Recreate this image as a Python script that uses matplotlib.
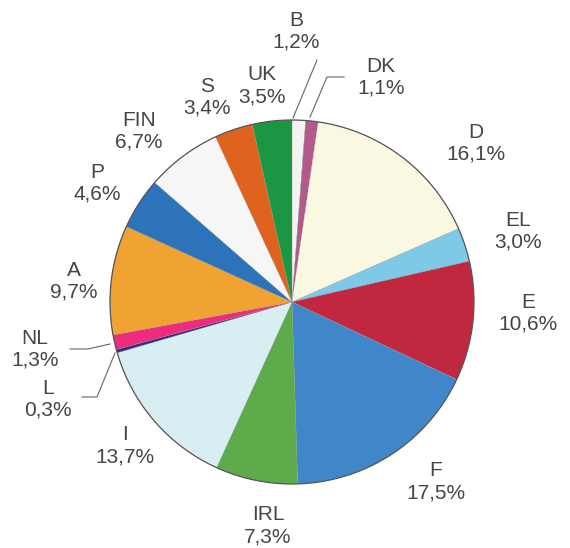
import matplotlib
matplotlib.use('Agg')
import matplotlib.pyplot as plt
from matplotlib.patches import Circle

# Share per country (%), clockwise from 12 o'clock
countries = ['B', 'DK', 'D', 'EL', 'E', 'F', 'IRL', 'I', 'L', 'NL', 'A', 'P', 'FIN', 'S', 'UK']
shares = [1.2, 1.1, 16.1, 3.0, 10.6, 17.5, 7.3, 13.7, 0.3, 1.3, 9.7, 4.6, 6.7, 3.4, 3.5]
share_labels = ['1,2%', '1,1%', '16,1%', '3,0%', '10,6%', '17,5%', '7,3%', '13,7%',
                '0,3%', '1,3%', '9,7%', '4,6%', '6,7%', '3,4%', '3,5%']

colors = ['#f3f3f1', '#b25a8c', '#fbf8e1', '#7ec8e8', '#c1283f', '#4087ca', '#5dab4a',
          '#d9eef2', '#3a2a8a', '#ee2b7c', '#f0a232', '#2c73b9', '#f6f6f6', '#e0621f', '#1b9642']

# label centres in image pixels (x, y from top)
label_pos = [(296, 31), (381, 77), (476, 143), (518, 231), (528, 313), (436, 482),
             (268, 526), (125, 446), (48, 399), (35, 349), (74, 281), (97, 183),
             (139, 131), (207, 97), (262, 86)]

W, H = 570, 548
cx, cy, r = 292, 302, 182

fig = plt.figure(figsize=(W / 100, H / 100), dpi=100)
ax = fig.add_axes([0, 0, 1, 1])

ax.pie(shares, colors=colors, startangle=90, counterclock=False,
       center=(cx, H - cy), radius=r, frame=True,
       wedgeprops=dict(linewidth=0.2, edgecolor='#999999'))
ax.add_patch(Circle((cx, H - cy), r, fill=False, edgecolor='#555555', linewidth=0.9))
ax.set_xlim(0, W)
ax.set_ylim(0, H)
ax.set_aspect('equal')
ax.axis('off')

txt = '#454545'
for name, lab, (x, y) in zip(countries, share_labels, label_pos):
    ax.text(x, H - y, name + '\n' + lab, ha='center', va='center', fontsize=15,
            family='Liberation Sans', color=txt, linespacing=1.2)

# leader lines for the thin slices
lc = '#666666'
ax.plot([293, 317], [H - 118, H - 60], color=lc, lw=0.8)
ax.plot([310, 327, 344], [H - 117, H - 77, H - 77], color=lc, lw=0.8)
ax.plot([110, 88, 70], [H - 344, H - 349, H - 349], color=lc, lw=0.8)
ax.plot([115, 97, 82], [H - 353, H - 397, H - 397], color=lc, lw=0.8)

fig.savefig('out.png', dpi=100)
